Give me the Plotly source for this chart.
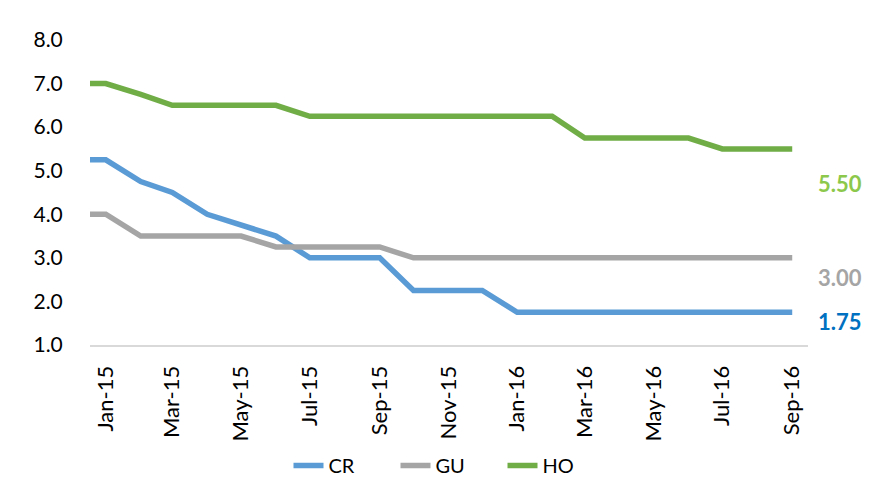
import plotly.graph_objects as go

dates = ["2014-12-18",
         "2015-01-01", "2015-02-01", "2015-03-01", "2015-04-01", "2015-05-01", "2015-06-01",
         "2015-07-01", "2015-08-01", "2015-09-01", "2015-10-01", "2015-11-01", "2015-12-01",
         "2016-01-01", "2016-02-01", "2016-03-01", "2016-04-01", "2016-05-01", "2016-06-01",
         "2016-07-01", "2016-08-01", "2016-09-01"]

cr = [5.25, 5.25, 4.75, 4.5, 4.0, 3.75, 3.5, 3.0, 3.0, 3.0, 2.25, 2.25, 2.25,
      1.75, 1.75, 1.75, 1.75, 1.75, 1.75, 1.75, 1.75, 1.75]
gu = [4.0, 4.0, 3.5, 3.5, 3.5, 3.5, 3.25, 3.25, 3.25, 3.25, 3.0, 3.0, 3.0,
      3.0, 3.0, 3.0, 3.0, 3.0, 3.0, 3.0, 3.0, 3.0]
ho = [7.0, 7.0, 6.75, 6.5, 6.5, 6.5, 6.5, 6.25, 6.25, 6.25, 6.25, 6.25, 6.25,
      6.25, 6.25, 5.75, 5.75, 5.75, 5.75, 5.5, 5.5, 5.5]

series_names = ["CR", "GU", "HO"]
series_values = [cr, gu, ho]
line_colors = ["#5B9BD5", "#A5A5A5", "#70AD47"]
label_colors = ["#0070C0", "#A5A5A5", "#8CC84B"]
label_yshifts = [-9, -20, -35]

x_range = ["2014-12-18", "2016-09-15"]
y_range = [1, 8]

FONT = "Lato"

fig = go.Figure()
for name, vals, col in zip(series_names, series_values, line_colors):
    fig.add_trace(go.Scatter(
        x=dates, y=vals, name=name, mode="lines",
        line=dict(color=col, width=5.5),
    ))

for vals, col, ys in zip(series_values, label_colors, label_yshifts):
    fig.add_annotation(
        x=dates[-1], y=vals[-1], text=f"<b>{vals[-1]:.2f}</b>",
        showarrow=False, xanchor="left", yanchor="middle",
        xshift=24, yshift=ys,
        font=dict(family=FONT, size=22, color=col),
    )

fig.update_layout(
    width=883, height=491,
    margin=dict(l=82, r=83, t=32, b=154, autoexpand=False),
    paper_bgcolor="white", plot_bgcolor="white",
    font=dict(family=FONT, size=20, color="#000000"),
    showlegend=True,
    legend=dict(orientation="h", x=0.50, xanchor="center", xref="paper",
                y=-0.395, yanchor="middle", font=dict(family=FONT, size=20),
                entrywidth=62, entrywidthmode="pixels", tracegroupgap=0),
    xaxis=dict(
        type="date", range=x_range, dtick="M2", tick0="2015-01-01",
        tickformat="%b-%y", tickangle=-90, automargin=False,
        showgrid=False, zeroline=False,
        showline=True, linecolor="#D9D9D9", linewidth=2,
        ticks="outside", ticklen=10, tickcolor="rgba(0,0,0,0)",
        tickfont=dict(family=FONT, size=22),
    ),
    yaxis=dict(
        range=y_range, dtick=1, tickformat=".1f", automargin=False,
        showgrid=False, zeroline=False, showline=False,
        ticks="outside", ticklen=22, tickcolor="rgba(0,0,0,0)",
        tickfont=dict(family=FONT, size=21),
    ),
)

fig.write_html("out.html")
